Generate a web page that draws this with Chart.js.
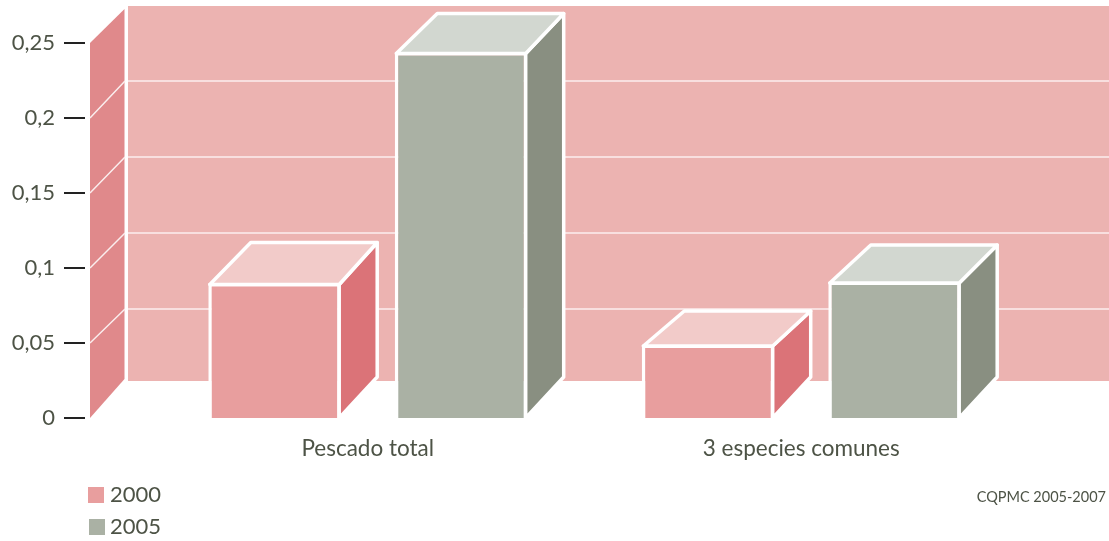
<!DOCTYPE html>
<html lang="es">
<head>
<meta charset="utf-8">
<title>Pescado total</title>
<script src="https://cdn.jsdelivr.net/npm/chart.js@4"></script>
<style>
  html, body { margin: 0; background: #fff; }
  canvas { display: block; }
</style>
</head>
<body>
<canvas id="grafico" width="1109" height="541"></canvas>
<script>
const categorias = ["Pescado total", "3 especies comunes"];
const serie2000 = [0.09, 0.049];
const serie2005 = [0.244, 0.091];
const tickValores = [0, 0.05, 0.1, 0.15, 0.2, 0.25];
const tickTextos = ["0", "0,05", "0,1", "0,15", "0,2", "0,25"];
const fuente = "Lato";
const colorTexto = "#4d5346";

// caras de cada serie: frente, lado, arriba
const tonos = [
  { frente: "#e89e9e", lado: "#db7378", arriba: "#f2cbc9" },
  { frente: "#aab1a4", lado: "#898f81", arriba: "#d2d7d0" },
];

// profundidad del techo de cada barra [serie][categoria]
const fondoTecho = [[42, 35], [40, 38]];

const cubos = {
  id: "cubos",
  beforeDatasetsDraw(chart) {
    const { ctx, scales: { y } } = chart;
    const cero = y.getPixelForValue(0);
    const atras = (py) => 385 - (cero - py) * 1.0133;

    ctx.save();
    // pared del fondo
    ctx.fillStyle = "#ecb3b1";
    ctx.fillRect(128, 6, 981, 375);
    // pared izquierda
    ctx.fillStyle = "#e0898b";
    ctx.beginPath();
    ctx.moveTo(90, y.getPixelForValue(0.25));
    ctx.lineTo(124.5, 9);
    ctx.lineTo(124.5, 379);
    ctx.lineTo(90, cero);
    ctx.closePath();
    ctx.fill();

    ctx.strokeStyle = "#fbeeee";
    ctx.lineWidth = 1.5;
    tickValores.slice(1, -1).forEach((v) => {
      const py = y.getPixelForValue(v);
      ctx.beginPath();
      ctx.moveTo(90, py);
      ctx.lineTo(125, atras(py));
      ctx.moveTo(128, atras(py));
      ctx.lineTo(1109, atras(py));
      ctx.stroke();
    });

    // marcas del eje
    ctx.strokeStyle = "#222";
    ctx.lineWidth = 2;
    y.ticks.forEach((t, i) => {
      const py = y.getPixelForTick(i);
      ctx.beginPath();
      ctx.moveTo(64, py);
      ctx.lineTo(85, py);
      ctx.stroke();
    });
    ctx.restore();
  },
  afterDatasetsDraw(chart) {
    const { ctx } = chart;
    ctx.save();
    ctx.strokeStyle = "#fff";
    ctx.lineWidth = 3.5;
    ctx.lineJoin = "round";
    chart.data.datasets.forEach((ds, d) => {
      chart.getDatasetMeta(d).data.forEach((bar, i) => {
        const izq = bar.x - bar.width / 2 + 1.5;
        const der = bar.x + bar.width / 2 - 1.5;
        const alto = bar.y + 1.5;
        const dy = fondoTecho[d][i];
        const dx = 38;

        ctx.fillStyle = tonos[d].lado;
        ctx.beginPath();
        ctx.moveTo(der, alto);
        ctx.lineTo(der + dx, alto - dy);
        ctx.lineTo(der + dx, bar.base - 41);
        ctx.lineTo(der, bar.base);
        ctx.closePath();
        ctx.fill();
        ctx.stroke();

        ctx.fillStyle = tonos[d].arriba;
        ctx.beginPath();
        ctx.moveTo(izq, alto);
        ctx.lineTo(izq + dx + 3, alto - dy);
        ctx.lineTo(der + dx, alto - dy);
        ctx.lineTo(der, alto);
        ctx.closePath();
        ctx.fill();
        ctx.stroke();
      });
    });

    // leyenda y fuente
    ctx.textBaseline = "middle";
    ctx.fillStyle = colorTexto;
    ctx.font = `22px ${fuente}`;
    chart.data.datasets.forEach((ds, d) => {
      const py = 495 + d * 32;
      ctx.fillStyle = tonos[d].frente;
      ctx.fillRect(88 + d, py - 8, 16, 16);
      ctx.fillStyle = colorTexto;
      ctx.fillText(ds.label, 110, py);
    });
    ctx.font = `14.5px ${fuente}`;
    ctx.textAlign = "right";
    ctx.fillText("CQPMC 2005-2007", 1106, 497);
    ctx.restore();
  },
};

new Chart(document.getElementById("grafico"), {
  type: "bar",
  data: {
    labels: categorias,
    datasets: [
      { label: "2000", data: serie2000, backgroundColor: tonos[0].frente },
      { label: "2005", data: serie2005, backgroundColor: tonos[1].frente },
    ],
  },
  options: {
    responsive: false,
    animation: false,
    layout: { padding: { top: 43, right: 91 } },
    categoryPercentage: 0.8604,
    barPercentage: 0.71,
    borderColor: "#fff",
    borderWidth: 3.5,
    borderSkipped: "bottom",
    plugins: {
      legend: { display: false },
      tooltip: { enabled: false },
    },
    scales: {
      x: {
        grid: { display: false },
        border: { display: false },
        ticks: {
          autoSkip: false,
          maxRotation: 0,
          padding: 9,
          color: colorTexto,
          font: { family: fuente, size: 22.5 },
        },
        afterFit(scale) { scale.height = 123; },
      },
      y: {
        min: 0,
        max: 0.25,
        grid: { display: false, drawTicks: false },
        border: { display: false },
        afterBuildTicks(scale) {
          scale.ticks = tickValores.map((value) => ({ value }));
        },
        ticks: {
          padding: 96,
          color: colorTexto,
          font: { family: fuente, size: 22 },
          callback: (value, i) => tickTextos[i],
        },
        afterFit(scale) {
          scale.width = 151;
          scale.paddingTop = 0;
          scale.paddingBottom = 0;
        },
      },
    },
  },
  plugins: [cubos],
});
</script>
</body>
</html>
